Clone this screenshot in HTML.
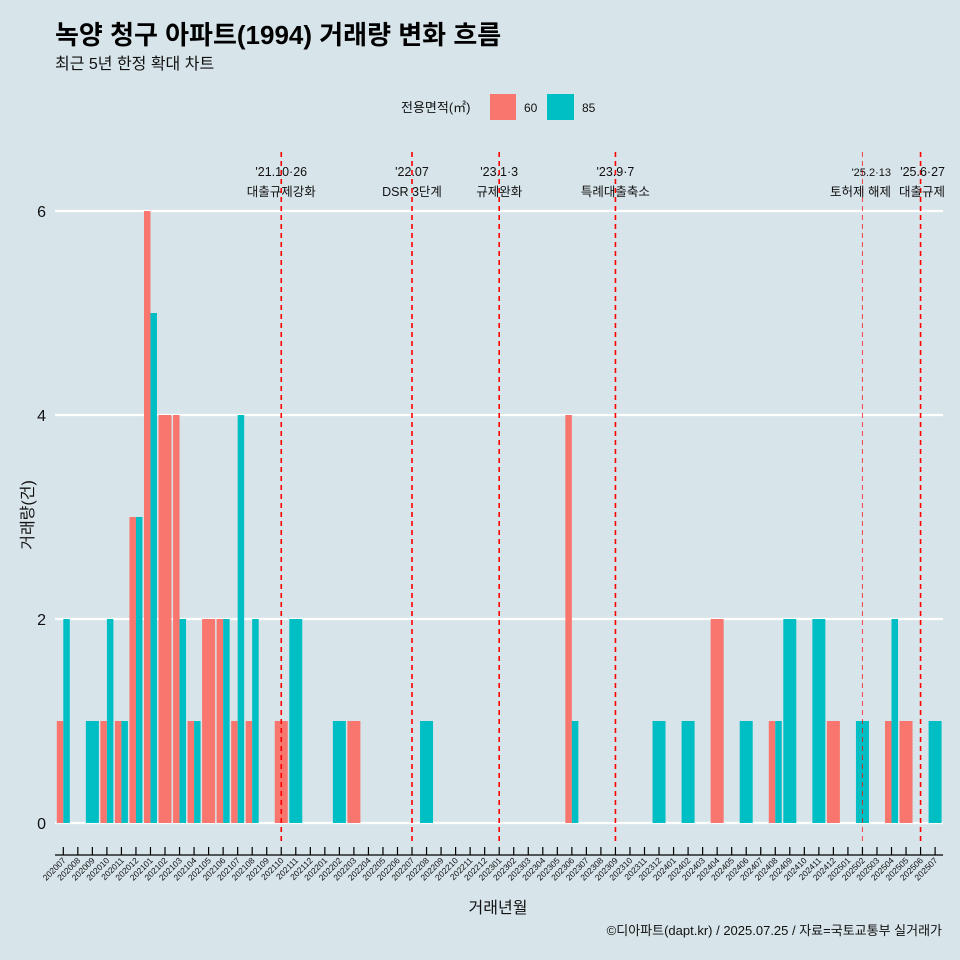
<!DOCTYPE html>
<html><head><meta charset="utf-8">
<style>
body{margin:0;background:#d7e4ea;}
svg{display:block;font-family:"Liberation Sans","Noto Sans CJK KR",sans-serif;}
</style></head><body>
<svg id="chart" width="960" height="960" viewBox="0 0 960 960" xmlns="http://www.w3.org/2000/svg">
<rect width="960" height="960" fill="#d7e4ea"/>
<text x="55" y="44" font-size="26" font-weight="bold" fill="#000">녹양 청구 아파트(1994) 거래량 변화 흐름</text>
<text x="55" y="69" font-size="16" fill="#111">최근 5년 한정 확대 차트</text>
<g>
<text x="401" y="112" font-size="13" fill="#111">전용면적(㎡)</text>
<rect x="490" y="94" width="26" height="26" fill="#f8766d"/>
<text x="524" y="112" font-size="12" fill="#111">60</text>
<rect x="547" y="94" width="27" height="26" fill="#00bfc4"/>
<text x="582" y="112" font-size="12" fill="#111">85</text>
</g>
<g id="grid"></g>
<g id="bars"></g>
<g id="events"></g>
<g id="axes"></g>
<text x="498" y="913" font-size="16" text-anchor="middle" fill="#111">거래년월</text>
<text transform="translate(33,515) rotate(-90)" font-size="16" text-anchor="middle" fill="#111">거래량(건)</text>
<text x="942" y="935" font-size="13" text-anchor="end" fill="#111">©디아파트(dapt.kr) / 2025.07.25 / 자료=국토교통부 실거래가</text>
</svg>
<script>
const months = [];
for (let y = 2020; y <= 2025; y++) for (let m = 1; m <= 12; m++) {
  const s = y + String(m).padStart(2, '0');
  if (s >= '202007' && s <= '202507') months.push(s);
}
const series60 = {"202007":1,"202010":1,"202011":1,"202012":3,"202101":6,"202102":4,"202103":4,"202104":1,"202105":2,"202106":2,"202107":1,"202108":1,"202110":1,"202203":1,"202306":4,"202404":2,"202408":1,"202412":1,"202504":1,"202505":1};
const series85 = {"202007":2,"202009":1,"202010":2,"202011":1,"202012":3,"202101":5,"202103":2,"202104":1,"202106":2,"202107":4,"202108":2,"202111":2,"202202":1,"202208":1,"202306":1,"202312":1,"202402":1,"202406":1,"202408":1,"202409":2,"202411":2,"202502":1,"202504":2,"202507":1};
const yTicks = [0, 2, 4, 6];
const eventMonths = ["202110","202207","202301","202309","202502","202506"];
const eventDates = ["'21.10·26","'22.07","'23.1·3","'23.9·7","'25.2·13","'25.6·27"];
const eventNames = ["대출규제강화","DSR 3단계","규제완화","특례대출축소","토허제 해제","대출규제"];

const NS = "http://www.w3.org/2000/svg";
const x0 = 63.3, step = 14.53, bw = 13;
const xScale = m => x0 + months.indexOf(m) * step;
const yScale = v => 823 - v * 102;
function mk(tag, attrs, parent) {
  const e = document.createElementNS(NS, tag);
  for (const k in attrs) e.setAttribute(k, attrs[k]);
  parent.appendChild(e); return e;
}
const grid = document.getElementById('grid');
const axes = document.getElementById('axes');
yTicks.forEach(v => {
  const l = mk('line', {x1:55, x2:943, y1:yScale(v), y2:yScale(v), stroke:'#fff', 'stroke-width':2.2}, grid);
  
  
  const t = mk('text', {x:46, y:yScale(v)+6, 'font-size':16, 'text-anchor':'end', fill:'#111'}, axes);
  t.textContent = v;
  
  
});
const bars = document.getElementById('bars');
months.forEach(m => {
  const a = series60[m], b = series85[m];
  const cx = xScale(m);
  if (a && b) {
    const r1 = mk('rect', {x:cx-bw/2, y:yScale(a), width:bw/2, height:yScale(0)-yScale(a), fill:'#f8766d'}, bars);
    
    
    const r2 = mk('rect', {x:cx, y:yScale(b), width:bw/2, height:yScale(0)-yScale(b), fill:'#00bfc4'}, bars);
    
    
  } else if (a || b) {
    const v = a || b;
    const r = mk('rect', {x:cx-bw/2, y:yScale(v), width:bw, height:yScale(0)-yScale(v), fill: a ? '#f8766d' : '#00bfc4'}, bars);
    
    
  }
});
// x axis
const ax = mk('line', {x1:55, x2:943, y1:855, y2:855, stroke:'#000', 'stroke-width':1.2}, axes);


months.forEach(m => {
  const x = xScale(m);
  const tk = mk('line', {x1:x, x2:x, y1:847, y2:855, stroke:'#000', 'stroke-width':1.2}, axes);
  
  
  const t = mk('text', {transform:`translate(${x+3},${861}) rotate(-45)`, 'font-size':8.5, 'text-anchor':'end', fill:'#111'}, axes);
  t.textContent = m;
  
  
});
// events
const ev = document.getElementById('events');
eventMonths.forEach((m, i) => {
  const x = xScale(m);
  const thin = m === '202502';
  const l = mk('line', {x1:x, x2:x, y1:152, y2:842, stroke:'#ff0000', 'stroke-width':thin?1:1.6, 'stroke-dasharray':'5,4', opacity:thin?0.7:1}, ev);
  
  
  const anchorEnd = i >= 4;
  const tx = anchorEnd ? (i === 5 ? 945 : 891) : x;
  const d = mk('text', {x:tx, y:176, 'font-size':thin?11:12.5, 'text-anchor':anchorEnd?'end':'middle', fill:'#111'}, ev);
  d.textContent = eventDates[i];
  
  
  const n = mk('text', {x:tx, y:196, 'font-size':12.5, 'text-anchor':anchorEnd?'end':'middle', fill:'#111'}, ev);
  n.textContent = eventNames[i];
  
  
});
</script>
</body></html>
